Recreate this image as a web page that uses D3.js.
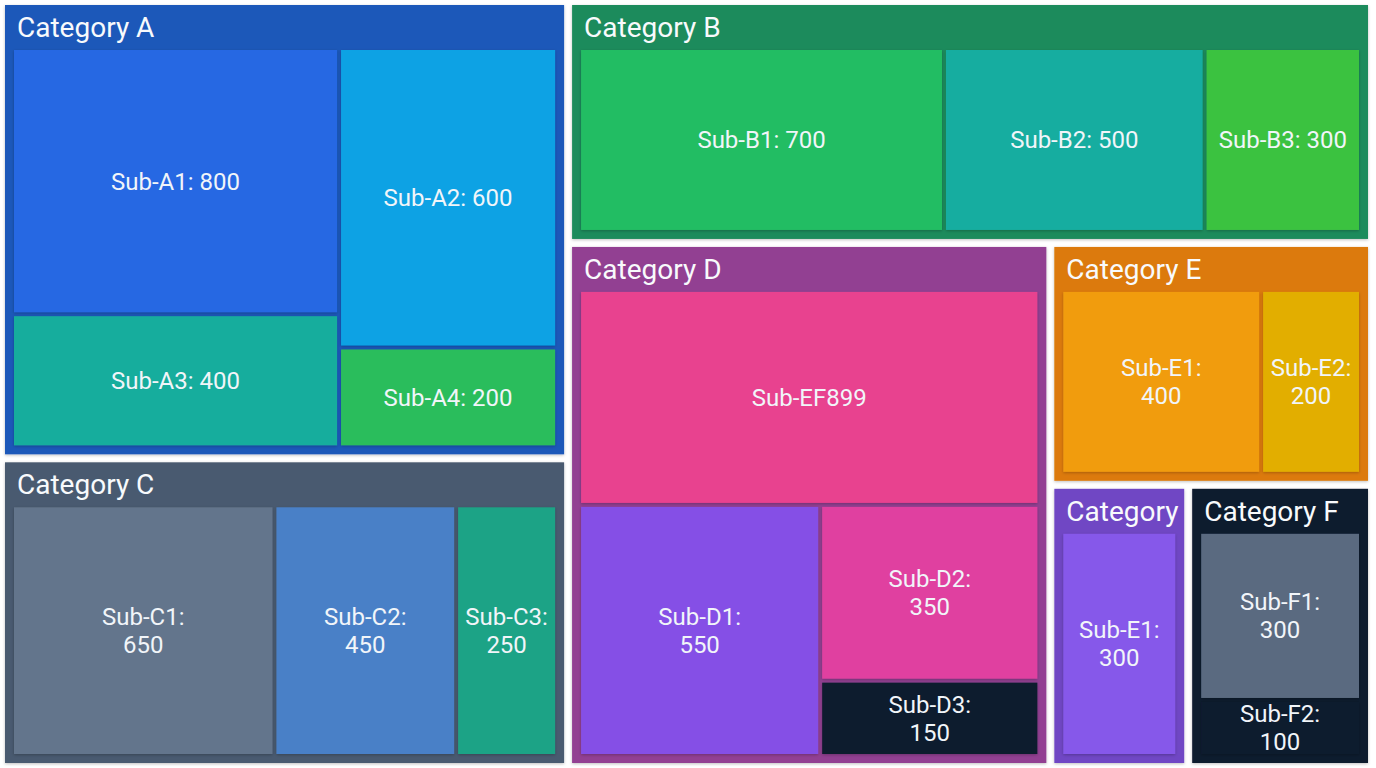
<!DOCTYPE html>
<html>
<head>
<meta charset="utf-8">
<script src="https://cdn.jsdelivr.net/npm/d3@7"></script>
<style>
  body { margin: 0; background: #ffffff; }
  svg { display: block; font-family: Roboto, "Noto Sans", sans-serif; }
</style>
</head>
<body>
<script>
// treemap data
const categories = ["Category A", "Category B", "Category C", "Category D", "Category E", "Category E", "Category F"];
const subNames = [
  ["Sub-A1", "Sub-A2", "Sub-A3", "Sub-A4"],
  ["Sub-B1", "Sub-B2", "Sub-B3"],
  ["Sub-C1", "Sub-C2", "Sub-C3"],
  ["Sub-EF", "Sub-D1", "Sub-D2", "Sub-D3"],
  ["Sub-E1", "Sub-E2"],
  ["Sub-E1"],
  ["Sub-F1", "Sub-F2"]
];
const subValues = [
  [800, 600, 400, 200],
  [700, 500, 300],
  [650, 450, 250],
  [899, 550, 350, 150],
  [400, 200],
  [300],
  [300, 100]
];

const groupColors = ["#1f58b9", "#1f8b5c", "#4a5a70", "#923f92", "#dc7a09", "#7047c4", "#0f1a2e"];
const leafColors = [
  ["#2667e3", "#0ea2e4", "#17ad9d", "#2bbd5c"],
  ["#22bd63", "#18ada0", "#3bc241"],
  ["#64748c", "#4a80c7", "#1fa386"],
  ["#e8428f", "#8550e6", "#e040a0", "#101a2e"],
  ["#f19c10", "#e2ae06"],
  ["#8659ea"],
  ["#5a6a80", "#0f1a2e"]
];
const singleLine = ["Category A", "Category B"];

// guillotine plans: "h" = side by side (dice), "v" = stacked (slice), numbers = child index
const rootPlan = ["h", ["v", 0, 2], ["v", 1, ["h", 3, ["v", 4, ["h", 5, 6]]]]];
const groupPlans = [
  ["h", ["v", 0, 2], ["v", 1, 3]],
  ["h", 0, 1, 2],
  ["h", 0, 1, 2],
  ["v", 0, ["h", 1, ["v", 2, 3]]],
  ["h", 0, 1],
  ["v", 0],
  ["v", 0, 1]
];

const width = 1376, height = 768;

const data = {
  name: "root",
  children: categories.map((c, i) => ({
    name: c, index: i,
    children: subNames[i].map((s, j) => ({ name: s, value: subValues[i][j], gi: i, li: j }))
  }))
};

function planValue(plan, kids) {
  if (typeof plan === "number") return kids[plan].value;
  return d3.sum(plan.slice(1), p => planValue(p, kids));
}

function place(plan, kids, x0, y0, x1, y1) {
  if (typeof plan === "number") {
    let c = kids[plan];
    c.x0 = x0; c.y0 = y0; c.x1 = x1; c.y1 = y1;
    return;
  }
  let parts = plan.slice(1).map(p => ({ plan: p, value: planValue(p, kids) }));
  let pseudo = { children: parts, value: d3.sum(parts, p => p.value) };
  (plan[0] === "h" ? d3.treemapDice : d3.treemapSlice)(pseudo, x0, y0, x1, y1);
  parts.forEach(p => place(p.plan, kids, p.x0, p.y0, p.x1, p.y1));
}

function planTile(node, x0, y0, x1, y1) {
  let plan = node.depth === 0 ? rootPlan : groupPlans[node.data.index];
  place(plan, node.children, x0, y0, x1, y1);
}

const root = d3.hierarchy(data).sum(d => d.value || 0);

d3.treemap()
  .size([width - 3, height])
  .tile(planTile)
  .paddingInner(d => d.depth === 0 ? 8 : 4)
  .paddingTop(d => d.depth === 0 ? 5 : 45)
  .paddingLeft(d => d.depth === 0 ? 5 : 9)
  .paddingRight(d => d.depth === 0 ? 5 : 9)
  .paddingBottom(d => d.depth === 0 ? 5 : 9)
  (root);

const svg = d3.select("body").append("svg")
  .attr("width", width)
  .attr("height", height);

const defs = svg.append("defs");
const shadow = defs.append("filter").attr("id", "shade")
  .attr("x", "-5%").attr("y", "-5%").attr("width", "110%").attr("height", "110%");
shadow.append("feDropShadow")
  .attr("dx", 0).attr("dy", 1).attr("stdDeviation", 1.5)
  .attr("flood-color", "#000").attr("flood-opacity", 0.25);

// clip each group so a long header can't spill onto a neighbour
defs.selectAll("clipPath")
  .data(root.children)
  .join("clipPath")
  .attr("id", d => "clip-" + d.data.index)
  .append("rect")
  .attr("x", d => d.x0).attr("y", d => d.y0)
  .attr("width", d => d.x1 - d.x0).attr("height", d => d.y1 - d.y0);

const groups = svg.selectAll("g.group")
  .data(root.children)
  .join("g")
  .attr("class", "group");

groups.append("rect")
  .attr("x", d => d.x0).attr("y", d => d.y0)
  .attr("width", d => d.x1 - d.x0).attr("height", d => d.y1 - d.y0)
  .attr("fill", d => groupColors[d.data.index])
  .attr("filter", "url(#shade)");

groups.append("text")
  .attr("clip-path", d => "url(#clip-" + d.data.index + ")")
  .attr("x", d => d.x0 + 12)
  .attr("y", d => d.y0 + 32)
  .attr("font-size", 28)
  .attr("fill", "#f8fafc")
  .text(d => d.data.name);

const leaves = svg.selectAll("g.leaf")
  .data(root.leaves())
  .join("g")
  .attr("class", "leaf");

leaves.append("rect")
  .attr("x", d => d.x0).attr("y", d => d.y0)
  .attr("width", d => d.x1 - d.x0).attr("height", d => d.y1 - d.y0)
  .attr("fill", d => leafColors[d.data.gi][d.data.li])
  .attr("filter", "url(#shade)");

const lineH = 28;
leaves.each(function(d) {
  let cx = (d.x0 + d.x1) / 2, cy = (d.y0 + d.y1) / 2;
  let name = d.data.name, v = d.data.value;
  let lines;
  if (name === "Sub-EF") lines = [name + v];
  else if (singleLine.includes(d.parent.data.name)) lines = [name + ": " + v];
  else lines = [name + ":", String(v)];
  let t = d3.select(this).append("text")
    .attr("text-anchor", "middle")
    .attr("font-size", 24)
    .attr("fill", "#f1f5f9");
  lines.forEach((l, i) => {
    t.append("tspan")
      .attr("x", cx)
      .attr("y", cy + 8.5 + (i - (lines.length - 1) / 2) * lineH)
      .text(l);
  });
});
</script>
</body>
</html>
